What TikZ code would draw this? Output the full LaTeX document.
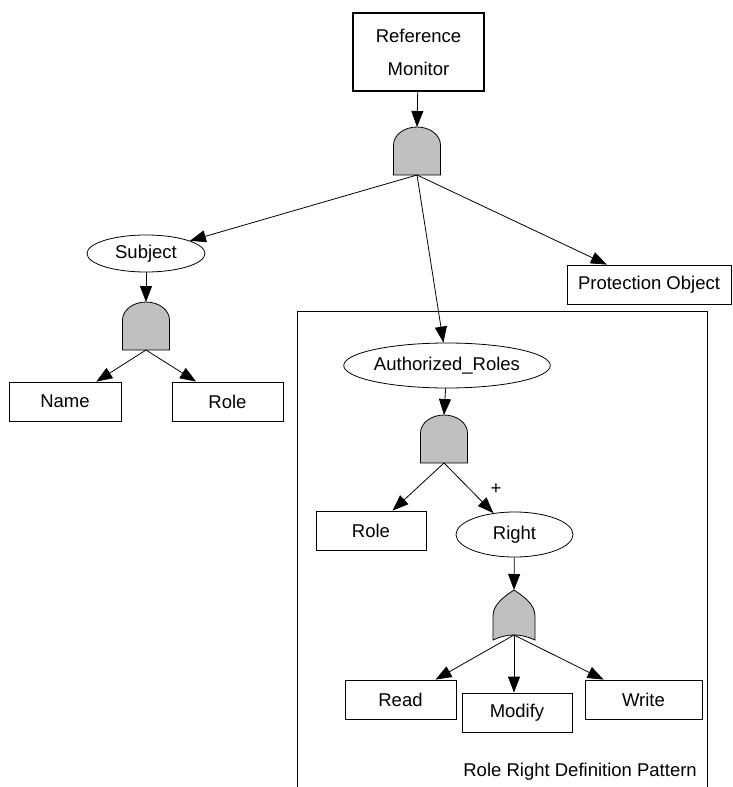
\documentclass[tikz,border=0pt]{standalone}
\usepackage{fontspec}
\setmainfont{Liberation Sans}
\usetikzlibrary{arrows.meta,shapes.geometric}
\definecolor{gatefill}{HTML}{C0C0C0}
\tikzset{
  txt/.style={font=\fontsize{18.5}{22}\selectfont},
  box/.style={draw, line width=0.8pt, rectangle, inner sep=0pt, minimum height=39pt, txt},
  oval/.style={draw, ellipse, line width=0.8pt, inner sep=0pt, txt},
  conn/.style={draw, line width=0.8pt, -{Triangle[length=16pt,width=12pt]}},
  andgate/.pic={
    \path[draw, fill=gatefill, line width=0.8pt]
      (-23.5,0) -- (-23.5,-30) .. controls (-23.5,-39.9) and (-13,-48) .. (0,-48)
      .. controls (13,-48) and (23.5,-39.9) .. (23.5,-30) -- (23.5,0) -- cycle;
    \coordinate (-top) at (0,-48);
    \coordinate (-bot) at (0,0);
  },
  orgate/.pic={
    \path[draw, fill=gatefill, line width=0.8pt]
      (-21,0) -- (-21,-24) .. controls (-21,-36) and (-9,-44) .. (0,-50)
      .. controls (9,-44) and (21,-36) .. (21,-24) -- (21,0)
      .. controls (7,-6.7) and (-7,-6.7) .. (-21,0) -- cycle;
    \coordinate (-top) at (0,-50);
    \coordinate (-bot) at (0,-5);
  }
}
\begin{document}
\begin{tikzpicture}[x=1pt,y=-1pt]
\useasboundingbox (0,0) rectangle (732,787);

% pattern frame
\draw[line width=0.8pt] (297,787) -- (297,311) -- (707,311) -- (707,787);
\node[txt, anchor=base east, inner sep=0pt] (patlbl) at (697,776) {Role Right Definition Pattern};

% nodes
\node[box, line width=2.4pt, minimum width=131pt, minimum height=78pt, align=center,
      font=\fontsize{18.5}{33}\selectfont] (rm) at (418.5,52) {Reference\\Monitor};
\pic (g1) at (417,175) {andgate};

\node[oval, minimum width=118pt, minimum height=37pt] (subj) at (146,253.5) {Subject};
\pic (g2) at (146,350) {andgate};
\node[box, minimum width=112pt] (name) at (65,401.5) {Name};
\node[box, minimum width=111pt] (role1) at (227.5,401.5) {Role};

\node[box, minimum width=164pt] (po) at (649,284.5) {Protection Object};

\node[oval, minimum width=168pt, minimum height=45pt] (ar) at (447,365.5) {Authorized\_Roles};
\pic (g3) at (444,463) {andgate};
\node[box, minimum width=110pt] (role2) at (371,530.5) {Role};
\node[oval, minimum width=117pt, minimum height=45pt] (right) at (514.5,534.5) {Right};
\node[txt] (plus) at (496,489) {+};

\pic (g4) at (514,640) {orgate};
\node[box, minimum width=111pt] (read) at (400.5,699.5) {Read};
\node[box, minimum width=110pt] (modify) at (517,712.5) {Modify};
\node[box, minimum width=117pt] (write) at (643.5,699.5) {Write};

% connectors
\draw[conn] (rm) -- (g1-top);
\draw[conn] (g1-bot) -- (subj);
\draw[conn] (g1-bot) -- (ar);
\draw[conn] (g1-bot) -- (po);
\draw[conn] (subj) -- (g2-top);
\draw[conn] (g2-bot) -- (name);
\draw[conn] (g2-bot) -- (role1);
\draw[conn] (ar) -- (g3-top);
\draw[conn] (g3-bot) -- (role2);
\draw[conn] (g3-bot) -- (right);
\draw[conn] (right) -- (g4-top);
\draw[conn] (g4-bot) -- (read);
\draw[conn] (g4-bot) -- (g4-bot |- modify.north);
\draw[conn] (g4-bot) -- (write);
\end{tikzpicture}
\end{document}
